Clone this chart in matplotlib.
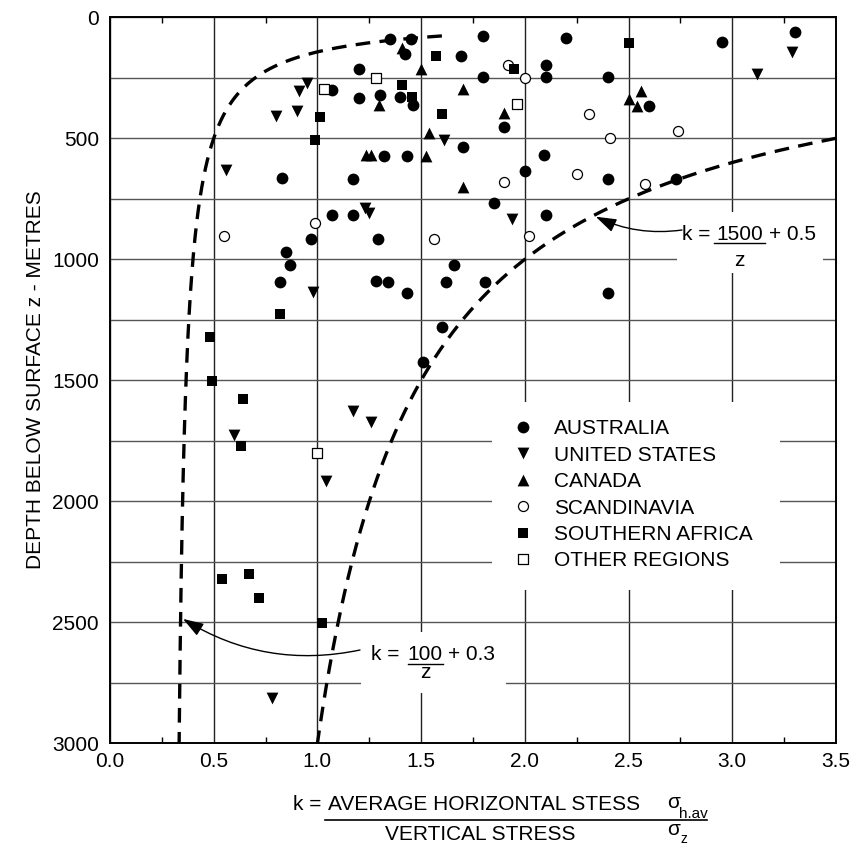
import numpy as np
import matplotlib
matplotlib.use('Agg')
import matplotlib.pyplot as plt
from matplotlib.patches import Rectangle
from matplotlib.lines import Line2D
from matplotlib.ticker import MultipleLocator

plt.rcParams['font.family'] = ['Liberation Sans', 'DejaVu Sans']

# ---------------- data (k, depth z in metres) ----------------
aus_k = [1.35, 1.45, 1.42, 1.69, 1.20, 1.07, 1.20, 1.30, 1.40, 1.46, 1.70, 1.32, 1.43,
         0.83, 1.17, 1.07, 1.17, 0.97, 1.29, 0.85, 0.87, 1.66, 1.80, 2.20, 2.95, 3.30,
         2.10, 2.10, 1.80, 2.40, 1.90, 2.60, 2.09, 2.00, 2.40, 2.73, 1.85, 2.10, 1.81,
         2.40, 0.82, 1.28, 1.34, 1.43, 1.62, 1.60, 1.51]
aus_z = [91, 91, 150, 160, 215, 300, 335, 321, 331, 362, 537, 572, 572,
         665, 668, 817, 817, 916, 916, 971, 1023, 1023, 76, 87, 103, 59,
         197, 245, 245, 245, 455, 367, 569, 634, 669, 669, 766, 817, 1093,
         1141, 1095, 1090, 1095, 1141, 1095, 1278, 1423]

us_k = [0.95, 0.91, 0.80, 0.90, 1.61, 0.56, 1.23, 1.25, 3.29, 3.12, 1.94, 0.98,
        1.17, 1.26, 0.60, 1.04, 0.78]
us_z = [270, 305, 408, 386, 507, 631, 789, 810, 142, 234, 834, 1134,
        1626, 1674, 1726, 1915, 2814]

can_k = [1.41, 1.50, 1.295, 1.54, 1.233, 1.257, 1.522, 1.70, 1.70, 1.90, 2.50, 2.56, 2.54]
can_z = [125, 215, 362, 477, 569, 569, 572, 700, 296, 397, 339, 303, 367]

sca_k = [0.99, 0.55, 1.56, 1.92, 2.00, 2.31, 2.41, 2.74, 1.90, 2.25, 2.58, 2.02]
sca_z = [849, 902, 916, 197, 250, 400, 500, 469, 682, 649, 689, 902]

saf_k = [1.57, 1.41, 1.455, 1.60, 1.01, 0.99, 2.50, 1.95, 0.82, 0.48, 0.49, 0.64,
         0.63, 0.54, 0.67, 0.72, 1.02]
saf_z = [160, 280, 330, 401, 411, 507, 108, 214, 1226, 1320, 1502, 1577,
         1770, 2321, 2300, 2401, 2502]

oth_k = [1.28, 1.03, 1.96, 1.00]
oth_z = [250, 298, 360, 1802]

# trend lines k = A/z + B
inner_A, inner_B = 100.0, 0.3
outer_A, outer_B = 1500.0, 0.5

x_ticks = [0.0, 0.5, 1.0, 1.5, 2.0, 2.5, 3.0, 3.5]
y_ticks = [0, 500, 1000, 1500, 2000, 2500, 3000]

# ---------------- figure ----------------
W, H = 854, 847
fig = plt.figure(figsize=(W / 100, H / 100), dpi=100)
ax = fig.add_axes([110 / W, 1 - 743.3 / H, (836 - 110) / W, (743.3 - 17.3) / H])


def F(x, y):
    return (x / W, 1 - y / H)


FS = 15

ax.set_xlim(0, 3.5)
ax.set_ylim(3000, 0)
ax.set_xticks(x_ticks)
ax.set_xticklabels([f"{v:.1f}" for v in x_ticks])
ax.set_yticks(y_ticks)
ax.set_yticklabels([str(v) for v in y_ticks])
ax.xaxis.set_minor_locator(MultipleLocator(0.25))
ax.yaxis.set_minor_locator(MultipleLocator(250))
ax.tick_params(axis='both', which='both', direction='in', top=True, right=True,
               labelsize=FS, color='black')
ax.tick_params(axis='both', which='major', length=0, width=1)
ax.tick_params(axis='x', which='minor', length=4, width=1)
ax.tick_params(axis='y', which='minor', length=0)
ax.tick_params(axis='x', which='major', pad=6.5)
ax.tick_params(axis='y', which='major', pad=8)
for s in ax.spines.values():
    s.set_linewidth(1.4)
    s.set_color('black')

ax.set_axisbelow(True)
ax.xaxis.grid(True, which='major', color='#222222', linewidth=1.0)
ax.yaxis.grid(True, which='both', color='#555555', linewidth=1.0)

# white boxes behind annotations and legend (interrupt grid)
for (k0, k1, z0, z1) in [(2.734, 3.438, 805, 1057), (1.21, 1.909, 2540, 2792),
                         (1.842, 3.23, 1590, 2367)]:
    ax.add_patch(Rectangle((k0, z0), k1 - k0, z1 - z0, facecolor='white',
                           edgecolor='none', zorder=1.5))

# trend curves
z_in = np.linspace(inner_A / 1.3, 3000, 600)
ax.plot(inner_A / z_in + inner_B, z_in, color='black', lw=2.4,
        linestyle=(0, (4.4, 2.8)), zorder=2)
z_out = np.linspace(outer_A / (3.5 - outer_B), 3000, 600)
ax.plot(outer_A / z_out + outer_B, z_out, color='black', lw=2.4,
        linestyle=(0, (4.4, 2.8)), zorder=2)

# data markers
ax.scatter(aus_k, aus_z, s=72, marker='o', c='black', lw=0, zorder=3, label='AUSTRALIA')
ax.scatter(us_k, us_z, s=72, marker='v', c='black', lw=0, zorder=3, label='UNITED STATES')
ax.scatter(can_k, can_z, s=72, marker='^', c='black', lw=0, zorder=3, label='CANADA')
ax.scatter(sca_k, sca_z, s=52, marker='o', facecolors='white', edgecolors='black',
           lw=0.9, zorder=3, label='SCANDINAVIA')
ax.scatter(saf_k, saf_z, s=52, marker='s', c='black', lw=0, zorder=3, label='SOUTHERN AFRICA')
ax.scatter(oth_k, oth_z, s=48, marker='s', facecolors='white', edgecolors='black',
           lw=0.9, zorder=3, label='OTHER REGIONS')

leg = ax.legend(loc='upper left', bbox_to_anchor=F(512.6, 419), bbox_transform=fig.transFigure,
                frameon=False, fontsize=FS, handlelength=1.0, handletextpad=1.0,
                labelspacing=0.36, borderpad=0, borderaxespad=0, scatteryoffsets=[0.5])
leg.set_zorder(5)

# annotation 1: k = 1500/z + 0.5
fig.text(*F(681.7, 240), "k =", fontsize=FS, ha='left', va='baseline')
fig.text(*F(739.5, 240), "1500", fontsize=FS, ha='center', va='baseline')
fig.text(*F(769, 240), "+ 0.5", fontsize=FS, ha='left', va='baseline')
fig.add_artist(Line2D([714.3 / W, 765 / W], [1 - 243.5 / H, 1 - 243.5 / H], color='black', lw=1.0))
fig.text(*F(739.5, 266), "z", fontsize=FS, ha='center', va='baseline')
ax.annotate("", xy=(2.342, 824), xycoords='data', xytext=F(682, 230),
            textcoords='figure fraction',
            arrowprops=dict(arrowstyle='-|>,head_length=0.9,head_width=0.3',
                            color='black', lw=1.0, connectionstyle='arc3,rad=-0.15',
                            shrinkA=0, shrinkB=0, mutation_scale=14), zorder=4)

# annotation 2: k = 100/z + 0.3
fig.text(*F(370.7, 660), "k =", fontsize=FS, ha='left', va='baseline')
fig.text(*F(425.3, 660), "100", fontsize=FS, ha='center', va='baseline')
fig.text(*F(448, 660), "+ 0.3", fontsize=FS, ha='left', va='baseline')
fig.add_artist(Line2D([408 / W, 443 / W], [1 - 664 / H, 1 - 664 / H], color='black', lw=1.0))
fig.text(*F(425.3, 677.5), "z", fontsize=FS, ha='center', va='baseline')
ax.annotate("", xy=(0.352, 2486), xycoords='data', xytext=F(360, 650),
            textcoords='figure fraction',
            arrowprops=dict(arrowstyle='-|>,head_length=0.9,head_width=0.3',
                            color='black', lw=1.0, connectionstyle='arc3,rad=-0.2',
                            shrinkA=0, shrinkB=0, mutation_scale=14), zorder=4)

# x axis label (fraction)
fig.text(*F(293, 810), "k =", fontsize=FS, ha='left', va='baseline')
fig.text(*F(328, 810), "AVERAGE HORIZONTAL STESS", fontsize=FS, ha='left', va='baseline')
fig.text(*F(667, 808), "σ", fontsize=FS, ha='left', va='baseline')
fig.text(*F(679, 818), "h.av", fontsize=11, ha='left', va='baseline')
fig.add_artist(Line2D([325 / W, 707 / W], [1 - 820 / H, 1 - 820 / H], color='black', lw=1.2))
fig.text(*F(385, 840), "VERTICAL STRESS", fontsize=FS, ha='left', va='baseline')
fig.text(*F(667, 835), "σ", fontsize=FS, ha='left', va='baseline')
fig.text(*F(681, 843), "z", fontsize=10, ha='left', va='baseline')

# y axis label
fig.text(*F(36, 380), "DEPTH BELOW SURFACE z - METRES", fontsize=FS, rotation=90,
         ha='center', va='center')

fig.savefig('out.png', dpi=100)
